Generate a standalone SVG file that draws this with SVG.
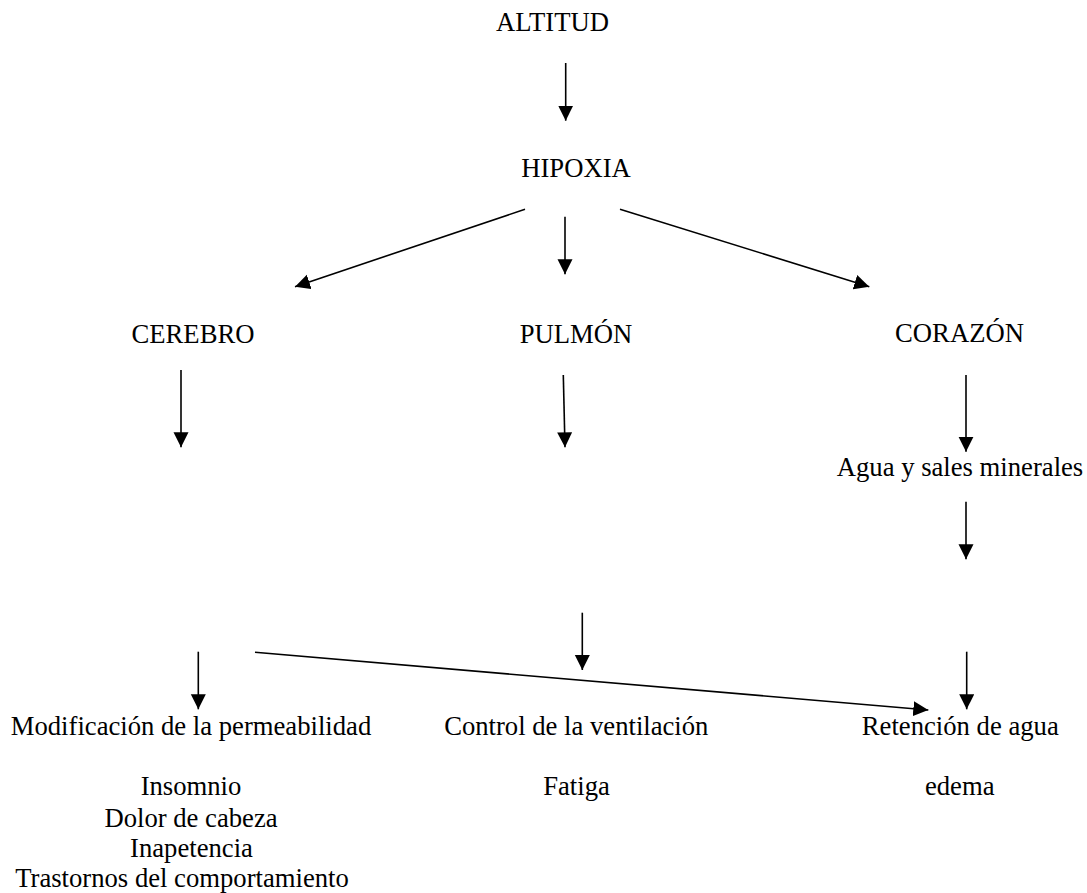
<svg xmlns="http://www.w3.org/2000/svg" width="1087" height="893" viewBox="0 0 1087 893">
<style>
text{font-family:'Liberation Serif',Tinos,'Times New Roman',Times,'DejaVu Serif',serif;font-size:26.67px;fill:#000;text-anchor:middle}
.c line{stroke:#000;stroke-width:1.6;fill:none;marker-end:url(#ah)}
</style>
<defs>
<marker id="ah" markerUnits="userSpaceOnUse" markerWidth="16" markerHeight="16" viewBox="0 0 16 16" refX="15" refY="7.5" orient="auto">
<path d="M0,0 L15,7.5 L0,15 z" fill="#000"/>
</marker>
</defs>
<rect width="1087" height="893" fill="#fff"/>
<g font-family="Liberation Serif, Times New Roman, serif">
<g id="altitud"><text x="552.5" y="31">ALTITUD</text></g>
<g id="hipoxia"><text x="576" y="177">HIPOXIA</text></g>
<g id="cerebro"><text x="193" y="343">CEREBRO</text></g>
<g id="pulmon"><text x="576" y="343">PULMÓN</text></g>
<g id="corazon"><text x="959.5" y="342">CORAZÓN</text></g>
<g id="agua"><text x="960" y="476">Agua y sales minerales</text></g>
<g id="modificacion"><text x="191" y="735">Modificación de la permeabilidad</text></g>
<g id="control"><text x="576.3" y="735">Control de la ventilación</text></g>
<g id="retencion"><text x="960.3" y="735">Retención de agua</text></g>
<g id="sintomas-cerebro">
<text x="191" y="795">Insomnio</text>
<text x="191" y="826.5">Dolor de cabeza</text>
<text x="191.5" y="856.5">Inapetencia</text>
<text x="182" y="887">Trastornos del comportamiento</text>
</g>
<g id="fatiga"><text x="576.5" y="795">Fatiga</text></g>
<g id="edema"><text x="959.7" y="795">edema</text></g>
</g>
<g id="connectors" class="c">
<line x1="565.7" y1="63" x2="565.7" y2="120.7"/>
<line x1="525" y1="209.3" x2="295" y2="286.7"/>
<line x1="565" y1="216.7" x2="565" y2="274.3"/>
<line x1="620" y1="209.3" x2="869.3" y2="286.7"/>
<line x1="181" y1="370" x2="181" y2="447.3"/>
<line x1="563.3" y1="375" x2="565" y2="447.3"/>
<line x1="966" y1="375" x2="966" y2="451.7"/>
<line x1="966" y1="501.7" x2="966" y2="559.3"/>
<line x1="198.3" y1="651.7" x2="198.3" y2="709.3"/>
<line x1="582.3" y1="612.7" x2="582.3" y2="670"/>
<line x1="966.7" y1="651.7" x2="966.7" y2="709.3"/>
<line x1="255" y1="652.3" x2="928.3" y2="710"/>
</g>
</svg>
